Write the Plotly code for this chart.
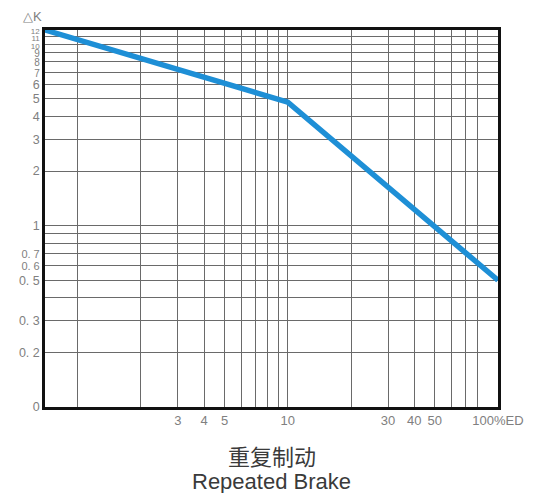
import math
import plotly.graph_objects as go

# Data (log-log)
ed_percent = [0.7, 10, 100]
delta_k = [12, 4.8, 0.5]

x_grid_vals = [1, 2, 3, 4, 5, 6, 7, 8, 9, 10, 20, 30, 40, 50, 60, 70, 80, 100]
x_tick_labels = {3: "3", 4: "4", 5: "5", 10: "10", 30: "30", 40: "40", 50: "50", 100: "100%ED"}

y_grid_vals = [12, 11, 10, 9, 8, 7, 6, 5, 4, 3, 2, 1, 0.9, 0.8, 0.7, 0.6, 0.5, 0.4, 0.3, 0.2, 0.1]
y_tick_labels = {12: "12", 11: "11", 10: "10", 9: "9", 8: "8", 7: "7", 6: "6", 5: "5", 4: "4",
                 3: "3", 2: "2", 1: "1", 0.7: "0. 7", 0.6: "0. 6", 0.5: "0. 5",
                 0.3: "0. 3", 0.2: "0. 2", 0.1: "0"}
tiny_labels = {12, 11, 10}
small_labels = {9, 8, 7}
mid_labels = {0.7, 0.6}

x_range = [math.log10(0.7), 2]
y_range = [-1, math.log10(12)]


def y_text(v):
    t = y_tick_labels.get(v, "")
    if t and v in tiny_labels:
        return "<span style='font-size:8px'>" + t + "</span>"
    if t and v in small_labels:
        return "<span style='font-size:10px'>" + t + "</span>"
    if t and v in mid_labels:
        return "<span style='font-size:11px'>" + t + "</span>"
    return t


fig = go.Figure()
fig.add_trace(go.Scatter(
    x=ed_percent, y=delta_k, mode="lines",
    line=dict(color="#1E8FD6", width=5.5),
    hoverinfo="skip", showlegend=False,
))

x_font = dict(family="Liberation Sans, Arial, sans-serif", size=13, color="#808080")
y_font = dict(family="Liberation Sans, Arial, sans-serif", size=12.5, color="#808080")

fig.update_xaxes(
    type="log", range=x_range,
    tickvals=x_grid_vals,
    ticktext=[x_tick_labels.get(v, "") for v in x_grid_vals],
    showgrid=True, gridcolor="#6a6a6a", gridwidth=1.3,
    showline=True, linecolor="#111", linewidth=2.5, mirror=True,
    ticks="", tickfont=x_font, zeroline=False,
)
fig.update_yaxes(
    type="log", range=y_range,
    tickvals=y_grid_vals,
    ticktext=[y_text(v) for v in y_grid_vals],
    showgrid=True, gridcolor="#6a6a6a", gridwidth=1.3,
    showline=True, linecolor="#111", linewidth=2.5, mirror=True,
    ticks="", tickfont=y_font, zeroline=False,
)

fig.update_layout(
    width=538, height=493,
    margin=dict(l=45, r=40, t=30, b=86),
    plot_bgcolor="white", paper_bgcolor="white",
    annotations=[
        dict(text="△K", xref="paper", yref="paper", x=-0.027, y=1.037,
             showarrow=False, xanchor="center", yanchor="middle",
             font=dict(family="Liberation Sans, Arial, sans-serif", size=13, color="#808080")),
        dict(text="重复制动", xref="paper", yref="paper", x=0.5, y=-0.127,
             showarrow=False, xanchor="center", yanchor="middle",
             font=dict(family="Noto Sans CJK SC", size=22, color="#3a3a3a")),
        dict(text="Repeated Brake", xref="paper", yref="paper", x=0.5, y=-0.198,
             showarrow=False, xanchor="center", yanchor="middle",
             font=dict(family="Liberation Sans, Arial, sans-serif", size=22, color="#3a3a3a")),
    ],
)

fig.write_html("out.html", config={"displayModeBar": False},
               post_script="document.body.style.margin='0';document.body.style.padding='0';")
